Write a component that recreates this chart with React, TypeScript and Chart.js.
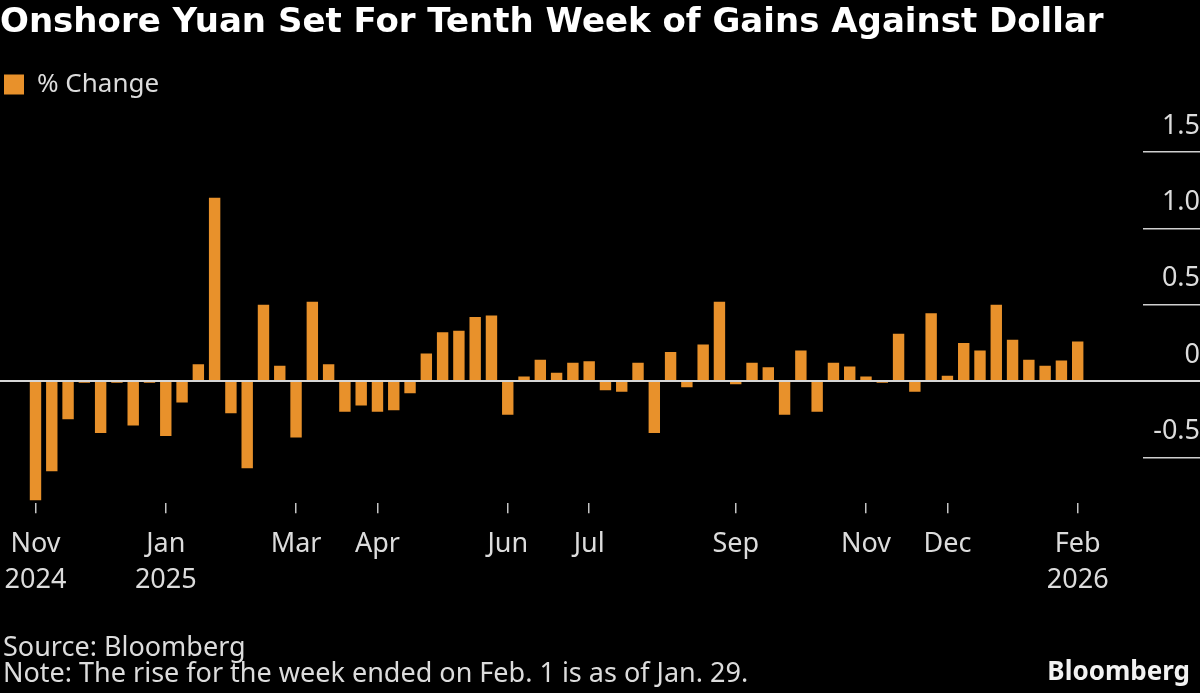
import React, { useEffect, useRef } from 'react';
import { Chart, registerables } from 'chart.js';

Chart.register(...registerables);

// Week-ending dates (Sundays)
const weekEnding = [
  '2024-11-10', '2024-11-17', '2024-11-24', '2024-12-01', '2024-12-08', '2024-12-15', '2024-12-22', '2024-12-29',
  '2025-01-05', '2025-01-12', '2025-01-19', '2025-01-26', '2025-02-02', '2025-02-09', '2025-02-16', '2025-02-23',
  '2025-03-02', '2025-03-09', '2025-03-16', '2025-03-23', '2025-03-30', '2025-04-06', '2025-04-13', '2025-04-20',
  '2025-04-27', '2025-05-04', '2025-05-11', '2025-05-18', '2025-05-25', '2025-06-01', '2025-06-08', '2025-06-15',
  '2025-06-22', '2025-06-29', '2025-07-06', '2025-07-13', '2025-07-20', '2025-07-27', '2025-08-03', '2025-08-10',
  '2025-08-17', '2025-08-24', '2025-08-31', '2025-09-07', '2025-09-14', '2025-09-21', '2025-09-28', '2025-10-05',
  '2025-10-12', '2025-10-19', '2025-10-26', '2025-11-02', '2025-11-09', '2025-11-16', '2025-11-23', '2025-11-30',
  '2025-12-07', '2025-12-14', '2025-12-21', '2025-12-28', '2026-01-04', '2026-01-11', '2026-01-18', '2026-01-25',
  '2026-02-01',
];

// Weekly % change of onshore yuan vs dollar
const pctChange = [
  -0.78, -0.59, -0.25, -0.01, -0.34, -0.01, -0.29, -0.01,
  -0.36, -0.14, 0.11, 1.2, -0.21, -0.57, 0.5, 0.1,
  -0.37, 0.52, 0.11, -0.2, -0.16, -0.2, -0.19, -0.08,
  0.18, 0.32, 0.33, 0.42, 0.43, -0.22, 0.03, 0.14,
  0.055, 0.12, 0.13, -0.06, -0.07, 0.12, -0.34, 0.19,
  -0.04, 0.24, 0.52, -0.02, 0.12, 0.09, -0.22, 0.2,
  -0.2, 0.12, 0.095, 0.03, -0.01, 0.31, -0.07, 0.445,
  0.035, 0.25, 0.2, 0.5, 0.27, 0.14, 0.1, 0.135,
  0.26,
];

const tickDates = [
  '2024-11-10', '2025-01-05', '2025-03-02', '2025-04-06', '2025-06-01',
  '2025-07-06', '2025-09-07', '2025-11-02', '2025-12-07', '2026-02-01',
];
const tickLabels = [
  ['Nov', '2024'], ['Jan', '2025'], ['Mar'], ['Apr'], ['Jun'],
  ['Jul'], ['Sep'], ['Nov'], ['Dec'], ['Feb', '2026'],
];
const yTickValues = [-0.5, 0, 0.5, 1.0, 1.5];

const TITLE = 'Onshore Yuan Set For Tenth Week of Gains Against Dollar';
const SERIES = '% Change';
const SOURCE = 'Source: Bloomberg';
const NOTE = 'Note: The rise for the week ended on Feb. 1 is as of Jan. 29.';
const BRAND = 'Bloomberg';

const ORANGE = '#e8912b';
const TEXT = '#dcdcdc';
const FONT = '"Noto Sans", "DejaVu Sans", sans-serif';

const legendSpacer = {
  id: 'legendSpacer',
  beforeInit(chart: any) {
    const legend = chart.legend;
    if (!legend) return;
    const fit = legend.fit;
    legend.fit = function () {
      fit.call(this);
      this.height = 84.5;
    };
  },
};

const zeroLine = {
  id: 'zeroLine',
  afterDatasetsDraw(chart: any) {
    const y = chart.scales.y.getPixelForValue(0);
    const ctx = chart.ctx;
    ctx.save();
    ctx.strokeStyle = '#d6d6d6';
    ctx.lineWidth = 2;
    ctx.beginPath();
    ctx.moveTo(0, y);
    ctx.lineTo(chart.width, y);
    ctx.stroke();
    ctx.restore();
  },
};

export default function App() {
  const ref = useRef<HTMLCanvasElement>(null);

  useEffect(() => {
    document.body.style.margin = '0';
    document.body.style.background = '#000';
    Chart.defaults.font.family = FONT;
    const tickIdx = tickDates.map((d) => weekEnding.indexOf(d));

    const chart = new Chart(ref.current as HTMLCanvasElement, {
      type: 'bar',
      data: {
        datasets: [
          {
            label: SERIES,
            data: pctChange.map((v, i) => ({ x: i, y: v })),
            backgroundColor: ORANGE,
            borderWidth: 0,
            categoryPercentage: 0.7,
            barPercentage: 1,
          } as any,
        ],
      },
      options: {
        responsive: false,
        animation: false,
        events: [],
        layout: { padding: { left: 0, right: 0, top: 0, bottom: 0 } },
        plugins: {
          title: {
            display: true,
            text: TITLE,
            align: 'start',
            color: '#ffffff',
            font: { family: '"DejaVu Sans", sans-serif', weight: 'bold', size: 34, lineHeight: 1.2 },
            padding: { top: 3, bottom: 23.7 },
          },
          legend: {
            display: true,
            position: 'top',
            align: 'start',
            labels: {
              boxWidth: 20,
              boxHeight: 20,
              padding: 4,
              color: TEXT,
              font: { size: 26 },
            },
          },
          tooltip: { enabled: false },
        },
        scales: {
          x: {
            type: 'linear',
            min: -2.18,
            max: 68.01,
            offset: false,
            afterBuildTicks: (s: any) => {
              s.ticks = tickIdx.map((v) => ({ value: v }));
            },
            afterFit: (s: any) => {
              s.height = 189.7;
              s.paddingLeft = 0;
              s.paddingRight = 0;
            },
            grid: {
              drawOnChartArea: false,
              drawTicks: true,
              tickLength: 10,
              color: '#c4c4c4',
              lineWidth: 1.5,
              offset: false,
            },
            border: { display: false },
            ticks: {
              autoSkip: false,
              maxRotation: 0,
              minRotation: 0,
              padding: 13.5,
              color: TEXT,
              font: { size: 27, lineHeight: 1.333 },
              callback: (v: any) => {
                const k = tickIdx.indexOf(Number(v));
                return k >= 0 ? tickLabels[k] : '';
              },
            },
          },
          y: {
            type: 'linear',
            position: 'right',
            min: -0.8,
            max: 1.5,
            afterBuildTicks: (s: any) => {
              s.ticks = yTickValues.map((v) => ({ value: v }));
            },
            afterFit: (s: any) => {
              s.width = 57;
            },
            grid: {
              drawOnChartArea: false,
              drawTicks: true,
              tickLength: 57,
              color: '#cfcfcf',
              lineWidth: 1.5,
            },
            border: { display: false },
            ticks: {
              color: TEXT,
              font: { size: 27 },
              labelOffset: -26,
              padding: 0,
              crossAlign: 'far',
              callback: (v: any) => (Number(v) === 0 ? '0' : Number(v).toFixed(1)),
            },
          },
        },
      } as any,
      plugins: [legendSpacer, zeroLine],
    });

    return () => chart.destroy();
  }, []);

  const foot: React.CSSProperties = {
    position: 'absolute',
    fontFamily: FONT,
    fontSize: 27,
    lineHeight: '28px',
    color: TEXT,
    whiteSpace: 'nowrap',
    margin: 0,
  };

  return (
    <div style={{ position: 'relative', width: 1200, height: 693, background: '#000', overflow: 'hidden' }}>
      <canvas ref={ref} width={1200} height={693} style={{ display: 'block', width: 1200, height: 693 }} />
      <div style={{ ...foot, left: 3, top: 631.5 }}>{SOURCE}</div>
      <div style={{ ...foot, left: 3, top: 658 }}>{NOTE}</div>
      <div
        style={{
          ...foot,
          right: 10,
          top: 656,
          fontSize: 26,
          fontWeight: 700,
          color: '#f2f2f2',
        }}
      >
        {BRAND}
      </div>
    </div>
  );
}
